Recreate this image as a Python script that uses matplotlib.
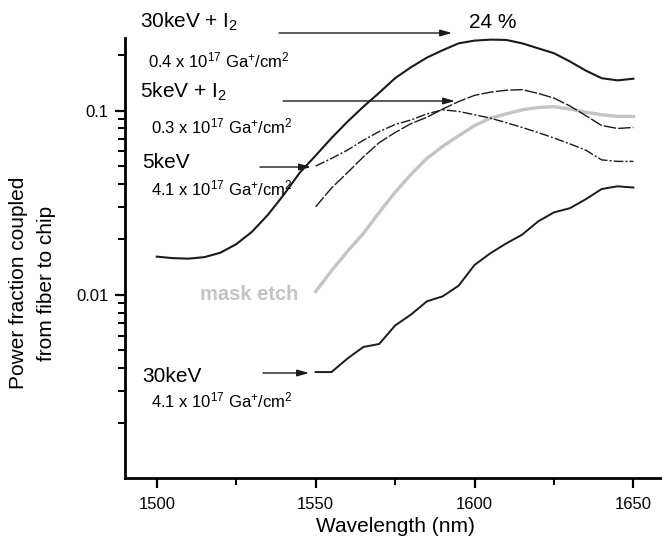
import matplotlib
matplotlib.use("Agg")
import matplotlib.pyplot as plt
from matplotlib.ticker import LogLocator, NullFormatter, FixedLocator

plt.rcParams['font.family'] = ['Liberation Sans', 'DejaVu Sans']
plt.rcParams['mathtext.fontset'] = 'custom'
plt.rcParams['mathtext.rm'] = 'Liberation Sans'
plt.rcParams['mathtext.it'] = 'Liberation Sans'

# ---- data ----
wl_i2_30 = [1500, 1505, 1510, 1515, 1520, 1525, 1530, 1535, 1540, 1545, 1550, 1555,
            1560, 1565, 1570, 1575, 1580, 1585, 1590, 1595, 1600, 1605, 1610, 1615,
            1620, 1625, 1630, 1635, 1640, 1645, 1650]
pf_i2_30 = [0.0161, 0.0158, 0.0157, 0.0160, 0.0169, 0.0188, 0.0220, 0.0272, 0.035, 0.046,
            0.057, 0.071, 0.087, 0.105, 0.125, 0.150, 0.172, 0.194, 0.213, 0.232, 0.240,
            0.243, 0.242, 0.232, 0.218, 0.205, 0.185, 0.165, 0.150, 0.146, 0.149]

wl_short = [1550, 1555, 1560, 1565, 1570, 1575, 1580, 1585, 1590, 1595, 1600, 1605,
            1610, 1615, 1620, 1625, 1630, 1635, 1640, 1645, 1650]
pf_5kev = [0.050, 0.055, 0.061, 0.069, 0.077, 0.084, 0.089, 0.096, 0.101, 0.099, 0.095,
           0.091, 0.086, 0.081, 0.076, 0.071, 0.066, 0.061, 0.054, 0.053, 0.053]
pf_i2_5 = [0.030, 0.038, 0.046, 0.056, 0.067, 0.076, 0.085, 0.092, 0.102, 0.112, 0.121,
           0.126, 0.129, 0.130, 0.124, 0.117, 0.106, 0.094, 0.083, 0.080, 0.081]
pf_mask = [0.0104, 0.0135, 0.0172, 0.0215, 0.028, 0.036, 0.045, 0.055, 0.064, 0.073, 0.083,
           0.091, 0.096, 0.101, 0.104, 0.105, 0.102, 0.098, 0.095, 0.093, 0.093]
pf_30kev = [0.0038, 0.0038, 0.0045, 0.0052, 0.0054, 0.0068, 0.0078, 0.0092, 0.0098, 0.0112,
            0.0145, 0.0168, 0.0190, 0.0212, 0.0250, 0.0280, 0.0295, 0.033, 0.0375, 0.0388,
            0.0382]

x_ticks = [1500, 1550, 1600, 1650]
y_ticks = [0.01, 0.1]
y_tick_labels = ['0.01', '0.1']

W, H = 662, 545
fig = plt.figure(figsize=(W / 100, H / 100), dpi=100)
ax = fig.add_axes([125 / W, 1 - 478 / H, 1 - 125 / W, (478 - 38) / H])


def fp(x, y):
    return (x / W, 1 - y / H)


ax.plot(wl_short, pf_mask, color='#c4c4c4', lw=2.4, zorder=2)
ax.plot(wl_i2_30, pf_i2_30, color='#1a1a1a', lw=1.5, zorder=3)
ax.plot(wl_short, pf_5kev, color='#1a1a1a', lw=1.0, ls=(0, (7, 1.5, 1.5, 1.5)), zorder=3)
ax.plot(wl_short, pf_i2_5, color='#1a1a1a', lw=1.0, ls=(0, (9, 1.5)), zorder=3)
ax.plot(wl_short, pf_30kev, color='#1a1a1a', lw=1.4, zorder=3)

ax.set_yscale('log')
ax.set_xlim(1490, 1659)
ax.set_ylim(0.00101, 0.248)
ax.xaxis.set_major_locator(FixedLocator(x_ticks))
ax.xaxis.set_minor_locator(FixedLocator([1525, 1575, 1625]))
ax.yaxis.set_major_locator(FixedLocator(y_ticks))
ax.set_yticklabels(y_tick_labels)
ax.yaxis.set_minor_locator(LogLocator(base=10, subs=[2, 3, 4, 5, 6, 7, 8, 9]))
ax.yaxis.set_minor_formatter(NullFormatter())

for s in ['top', 'right']:
    ax.spines[s].set_visible(False)
for s in ['left', 'bottom']:
    ax.spines[s].set_linewidth(2)
ax.tick_params(which='major', direction='out', length=7, width=1.6, labelsize=12)
ax.tick_params(axis='x', which='major', pad=7)
ax.tick_params(axis='y', which='major', pad=5)
ax.tick_params(which='minor', direction='out', length=5, width=1.4)

# axis titles
fig.text(*fp(395, 527), 'Wavelength (nm)', fontsize=15, ha='center', va='center')
fig.text(*fp(19, 283), 'Power fraction coupled', fontsize=15, rotation=90,
         ha='center', va='center')
fig.text(*fp(47, 283), 'from fiber to chip', fontsize=15, rotation=90,
         ha='center', va='center')

# ---- annotations ----
big = 15
small = 12
fig.text(*fp(140, 28), r'30keV + I$_2$', fontsize=big, va='baseline', ha='left')
fig.text(*fp(148, 67), r'0.4 x 10$^{17}$ Ga$^{+}$/cm$^{2}$', fontsize=small, va='baseline', ha='left')
fig.text(*fp(140, 98), r'5keV + I$_2$', fontsize=big, va='baseline', ha='left')
fig.text(*fp(151, 133), r'0.3 x 10$^{17}$ Ga$^{+}$/cm$^{2}$', fontsize=small, va='baseline', ha='left')
fig.text(*fp(142, 168), '5keV', fontsize=big, va='baseline', ha='left')
fig.text(*fp(151, 195), r'4.1 x 10$^{17}$ Ga$^{+}$/cm$^{2}$', fontsize=small, va='baseline', ha='left')
fig.text(*fp(142, 382), '30keV', fontsize=big, va='baseline', ha='left')
fig.text(*fp(151, 407), r'4.1 x 10$^{17}$ Ga$^{+}$/cm$^{2}$', fontsize=small, va='baseline', ha='left')
fig.text(*fp(200, 300), 'mask etch', fontsize=14.5, fontweight='bold', color='#c4c4c4',
         va='baseline', ha='left')
fig.text(*fp(493, 28), '24 %', fontsize=big, va='baseline', ha='center')

arrow_kw = dict(arrowstyle='-|>,head_length=0.7,head_width=0.2', lw=1.0, color='#1a1a1a',
                shrinkA=0, shrinkB=0)
for (x0, y0, x1, y1) in [(279, 33, 452, 33), (283, 101, 455, 101),
                         (260, 167, 311, 167), (263, 373, 309, 373)]:
    ax.annotate('', xy=fp(x1, y1), xytext=fp(x0, y0), xycoords='figure fraction',
                textcoords='figure fraction', arrowprops=arrow_kw, annotation_clip=False)

fig.savefig('out.png', dpi=100)
